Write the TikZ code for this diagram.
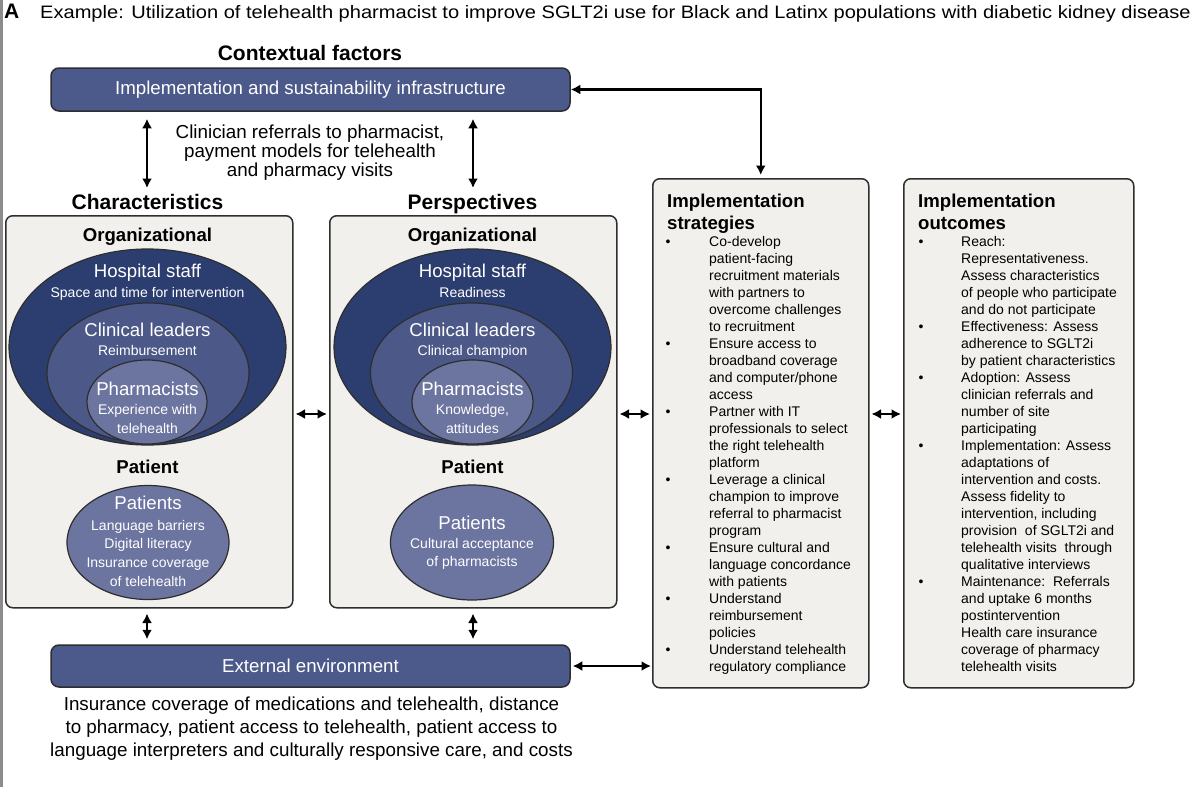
\documentclass[tikz,border=0pt]{standalone}
\usepackage{fontspec}
\setmainfont{Liberation Sans}
\usetikzlibrary{arrows.meta,shapes.geometric}
\definecolor{navy}{HTML}{2C3E6F}
\definecolor{midb}{HTML}{4B5888}
\definecolor{lightb}{HTML}{6C74A0}
\definecolor{boxb}{HTML}{4B5A8A}
\definecolor{panel}{HTML}{F2F0ED}
\definecolor{edge}{HTML}{2E2E2E}
\definecolor{sidebar}{HTML}{8C8C8C}
\begin{document}
\begin{tikzpicture}[x=1pt,y=-1pt,
  panelbox/.style={draw=edge, line width=1.5pt, fill=panel, rounded corners=7pt, inner sep=0},
  bluebox/.style={draw=edge, line width=1.5pt, fill=boxb, rounded corners=8pt, inner sep=0,
     text=white, font=\fontsize{18.7}{20}\selectfont},
  ell/.style={ellipse, draw=edge, line width=1.2pt, inner sep=0},
  wbig/.style={text=white, font=\fontsize{18.6}{20}\selectfont, anchor=base, inner sep=0},
  wsmall/.style={text=white, font=\fontsize{14}{17}\selectfont, anchor=base, inner sep=0},
  hd/.style={font=\bfseries\fontsize{18.6}{20}\selectfont, anchor=base, inner sep=0},
  bighd/.style={font=\bfseries\fontsize{21}{24}\selectfont, anchor=base, inner sep=0},
  plain/.style={font=\fontsize{18.8}{20}\selectfont, anchor=base, inner sep=0},
  listtxt/.style={font=\fontsize{14}{17}\selectfont, anchor=base west, inner sep=0},
  listhd/.style={font=\bfseries\fontsize{18.6}{20}\selectfont, anchor=base west, inner sep=0},
  arr/.style={line width=2.5pt, {Latex[length=9.5pt,width=10pt]}-{Latex[length=9.5pt,width=10pt]}},
]
\useasboundingbox (0,0) rectangle (1200,787);
\fill[white] (0,0) rectangle (1200,787);
\fill[sidebar] (0,0) rectangle (3,787);

% title
\node[anchor=base west, inner sep=0, font=\bfseries\fontsize{21}{24}\selectfont] (lab) at (4,19) {A};
\node[anchor=base west, inner sep=0, font=\fontsize{18}{20}\selectfont] (title) at (40,19)
  {\scalebox{1.115}[1]{Example: Utilization of telehealth pharmacist to improve SGLT2i use for Black and Latinx populations with diabetic kidney disease}};

% contextual factors
\node[bighd] (ctx) at (310,60.5) {Contextual factors};
\node[bluebox, minimum width=519pt, minimum height=43pt] (infra) at (310.5,89.5) {Implementation and sustainability infrastructure};
\foreach \t [count=\i] in {{Clinician referrals to pharmacist,}, payment models for telehealth, and pharmacy visits}
  \node[plain] (cr\i) at (310,119.7+19*\i) {\t};

% headings
\node[bighd] (charhd) at (147.5,209.5) {Characteristics};
\node[bighd] (pershd) at (472.5,209.5) {Perspectives};

% panels
\node[panelbox, anchor=north west, minimum width=287pt, minimum height=392pt] (charbox) at (5,215) {};
\node[panelbox, anchor=north west, minimum width=287pt, minimum height=392pt] (persbox) at (329,215) {};
\node[panelbox, anchor=north west, minimum width=216pt, minimum height=509pt] (strat) at (652,178) {};
\node[panelbox, anchor=north west, minimum width=230pt, minimum height=509pt] (outc) at (903,178) {};

% external environment
\node[bluebox, minimum width=519pt, minimum height=42pt] (env) at (310.5,666) {External environment};
\foreach \t [count=\i] in {Insurance coverage of medications and telehealth{,} distance,
   to pharmacy{,} patient access to telehealth{,} patient access to,
   language interpreters and culturally responsive care{,} and costs}
  \node[plain] (ins\i) at (311.5,687.7+23*\i) {\t};

% ---- left column ellipses
\node[hd] (org1) at (147.5,241.7) {Organizational};
\node[ell, fill=navy, minimum width=277pt, minimum height=196pt] (hs1) at (147.5,347) {};
\node[ell, fill=midb, minimum width=202pt, minimum height=140pt] (cl1) at (148,373) {};
\node[ell, fill=lightb, minimum width=120pt, minimum height=84pt] (ph1) at (147,402) {};
\node[wbig] (hs1t) at (147.5,277.7) {Hospital staff};
\node[wsmall] (hs1s) at (147.5,297) {Space and time for intervention};
\node[wbig] (cl1t) at (147.5,336.7) {Clinical leaders};
\node[wsmall] (cl1s) at (147.5,355) {Reimbursement};
\node[wbig] (ph1t) at (147.5,395.7) {Pharmacists};
\node[wsmall] (ph1s) at (147.5,414) {Experience with};
\node[wsmall] (ph1u) at (147.5,433) {telehealth};
\node[hd] (pat1) at (147.5,473.7) {Patient};
\node[ell, fill=lightb, minimum width=162pt, minimum height=114pt] (pt1) at (148,542.5) {};
\node[wbig] (pt1t) at (148,509.7) {Patients};
\foreach \t [count=\i] in {Language barriers, Digital literacy, Insurance coverage, of telehealth}
  \node[wsmall] (pt1s\i) at (148,511.3+18.7*\i) {\t};

% ---- middle column ellipses
\node[hd] (org2) at (472.5,241.7) {Organizational};
\node[ell, fill=navy, minimum width=277pt, minimum height=196pt] (hs2) at (472.5,347) {};
\node[ell, fill=midb, minimum width=202pt, minimum height=140pt] (cl2) at (471.5,373) {};
\node[ell, fill=lightb, minimum width=121pt, minimum height=84pt] (ph2) at (472.5,402) {};
\node[wbig] (hs2t) at (472.5,277.7) {Hospital staff};
\node[wsmall] (hs2s) at (472.5,297) {Readiness};
\node[wbig] (cl2t) at (472.5,336.7) {Clinical leaders};
\node[wsmall] (cl2s) at (472.5,355) {Clinical champion};
\node[wbig] (ph2t) at (472.5,395.7) {Pharmacists};
\node[wsmall] (ph2s) at (472.5,414) {Knowledge,};
\node[wsmall] (ph2u) at (472.5,433) {attitudes};
\node[hd] (pat2) at (472.5,473.7) {Patient};
\node[ell, fill=lightb, minimum width=163pt, minimum height=115pt] (pt2) at (472,542.5) {};
\node[wbig] (pt2t) at (472,529.7) {Patients};
\node[wsmall] (pt2s1) at (472,548) {Cultural acceptance};
\node[wsmall] (pt2s2) at (472,566) {of pharmacists};

% ---- implementation strategies
\node[listhd] (sth1) at (667,207.5) {Implementation};
\node[listhd] (sth2) at (667,229.5) {strategies};
\foreach \t [count=\i] in {Co-develop, patient-facing, recruitment materials, with partners to,
  overcome challenges, to recruitment, Ensure access to, broadband coverage, and computer/phone,
  access, Partner with IT, professionals to select, the right telehealth, platform,
  Leverage a clinical, champion to improve, referral to pharmacist, program,
  Ensure cultural and, language concordance, with patients, Understand, reimbursement,
  policies, Understand telehealth, regulatory compliance}
  \node[listtxt] (s\i) at (709,229.7+17*\i) {\t};
\foreach \i in {1,7,11,15,19,22,25}
  \node[listtxt, anchor=base] (sb\i) at (668,229.7+17*\i) {•};

% ---- implementation outcomes
\node[listhd] (oth1) at (918,207.5) {Implementation};
\node[listhd] (oth2) at (918,229.5) {outcomes};
\foreach \t [count=\i] in {Reach:, Representativeness., Assess characteristics, of people who participate,
  and do not participate, Effectiveness: Assess, adherence to SGLT2i, by patient characteristics,
  Adoption: Assess, clinician referrals and, number of site, participating,
  Implementation: Assess, adaptations of, intervention and costs., Assess fidelity to,
  {intervention, including}, provision\ \ of SGLT2i and, telehealth visits\ \ through, qualitative interviews,
  Maintenance:\ \ Referrals, and uptake 6 months, postintervention, Health care insurance,
  coverage of pharmacy, telehealth visits}
  \node[listtxt] (o\i) at (961,229.7+17*\i) {\t};
\foreach \i in {1,6,9,13,21}
  \node[listtxt, anchor=base] (ob\i) at (921,229.7+17*\i) {•};

% ---- connectors
\coordinate (my) at (0,414);
\coordinate (c1) at (147,188);
\coordinate (c2) at (473,188);
\draw[arr, shorten <=7pt] (infra.south -| c1) -- (c1);
\draw[arr, shorten <=7pt] (infra.south -| c2) -- (c2);
\draw[arr, shorten >=3pt] (infra.east) -| (strat.north);
\draw[arr, shorten <=2pt, shorten >=2pt] (charbox.east |- my) -- (persbox.west |- my);
\draw[arr, shorten <=2pt, shorten >=2pt] (persbox.east |- my) -- (strat.west |- my);
\draw[arr, shorten <=2pt, shorten >=2pt] (strat.east |- my) -- (outc.west |- my);
\draw[arr, shorten <=5pt, shorten >=5pt] (charbox.south -| c1) -- (env.north -| c1);
\draw[arr, shorten <=5pt, shorten >=5pt] (persbox.south -| c2) -- (env.north -| c2);
\draw[arr, shorten <=2pt, shorten >=1pt] (env.east) -- (strat.west |- env.east);
\end{tikzpicture}
\end{document}
